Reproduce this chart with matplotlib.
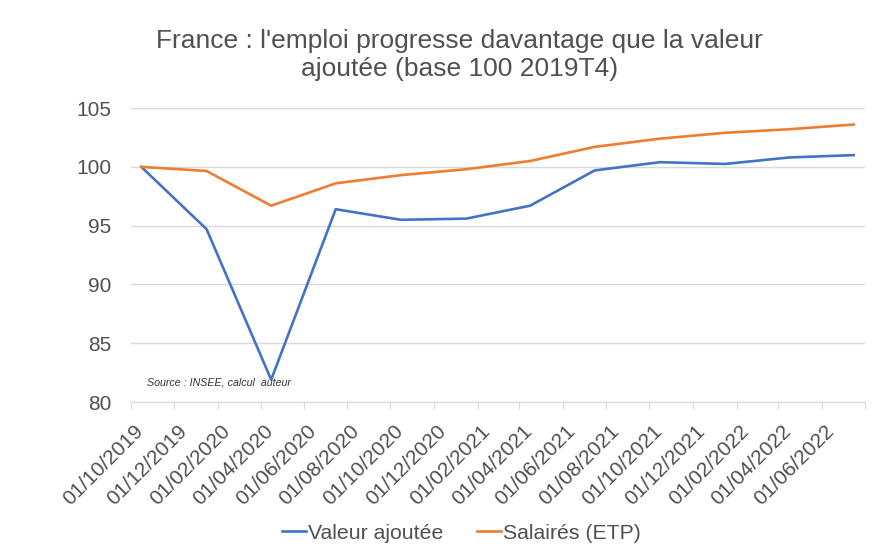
import numpy as np
import pandas as pd
import matplotlib
matplotlib.use("Agg")
import matplotlib.pyplot as plt
import matplotlib.transforms as mtransforms

# donnees trimestrielles (base 100 2019T4)
dates = pd.date_range("2019-10-01", periods=12, freq="QS-OCT")
valeur_ajoutee = [100.0, 94.7, 81.9, 96.4, 95.5, 95.6, 96.7, 99.7, 100.4, 100.25, 100.8, 101.0]
salaries_etp = [100.0, 99.65, 96.7, 98.6, 99.3, 99.8, 100.5, 101.7, 102.4, 102.9, 103.2, 103.6]
tick_dates = pd.date_range("2019-10-01", "2022-06-01", freq="2MS")
yticks = [80, 85, 90, 95, 100, 105]

grey = "#505050"
plt.rcParams['font.family'] = ['Liberation Sans', 'DejaVu Sans']

fig = plt.figure(figsize=(8.89, 5.6), dpi=100)
ax = fig.add_axes([0.147, 0.282, 0.826, 0.525])

# excel "entre les graduations" : decalage d'un demi-mois
x = dates + pd.Timedelta(days=15)
ax.plot(x, valeur_ajoutee, color="#4472C4", lw=1.9, label="Valeur ajoutée")
ax.plot(x, salaries_etp, color="#ED7D31", lw=1.9, label="Salairés (ETP)")

ax.set_xlim(pd.Timestamp("2019-10-01"), pd.Timestamp("2022-08-01"))
ax.set_ylim(80, 105)
ax.set_yticks(yticks)
ax.set_xticks(list(tick_dates) + [pd.Timestamp("2022-08-01")])
ax.set_xticklabels([d.strftime("%d/%m/%Y") for d in tick_dates] + [""])
ax.grid(axis="y", color="#d9d9d9", lw=1)
ax.set_axisbelow(True)

for s in ["top", "right", "left"]:
    ax.spines[s].set_visible(False)
ax.spines["bottom"].set_color("#d9d9d9")
ax.tick_params(axis="y", length=0, pad=14, labelsize=15, labelcolor=grey)
ax.tick_params(axis="x", length=5, color="#d9d9d9", labelsize=15, labelcolor=grey, pad=9)
shift = mtransforms.ScaledTranslation(3 / 100, 0, fig.dpi_scale_trans)
for lab in ax.get_xticklabels():
    lab.set_rotation(45)
    lab.set_ha("right")
    lab.set_va("top")
    lab.set_rotation_mode("anchor")
    lab.set_transform(lab.get_transform() + shift)

ax.text(0.022, 0.065, "Source : INSEE, calcul  auteur", transform=ax.transAxes,
        fontsize=7.7, style="italic", color="#333333", va="center")

fig.text(0.517, 0.902, "France : l'emploi progresse davantage que la valeur\najoutée (base 100 2019T4)",
         ha="center", va="center", fontsize=19, color=grey, linespacing=1.25)

fig.legend(loc="center", bbox_to_anchor=(0.519, 0.048), ncol=2, frameon=False,
           fontsize=15.3, labelcolor=grey, handlelength=1.1, handletextpad=0.1, columnspacing=1.6)

fig.savefig("out.png", dpi=100)
